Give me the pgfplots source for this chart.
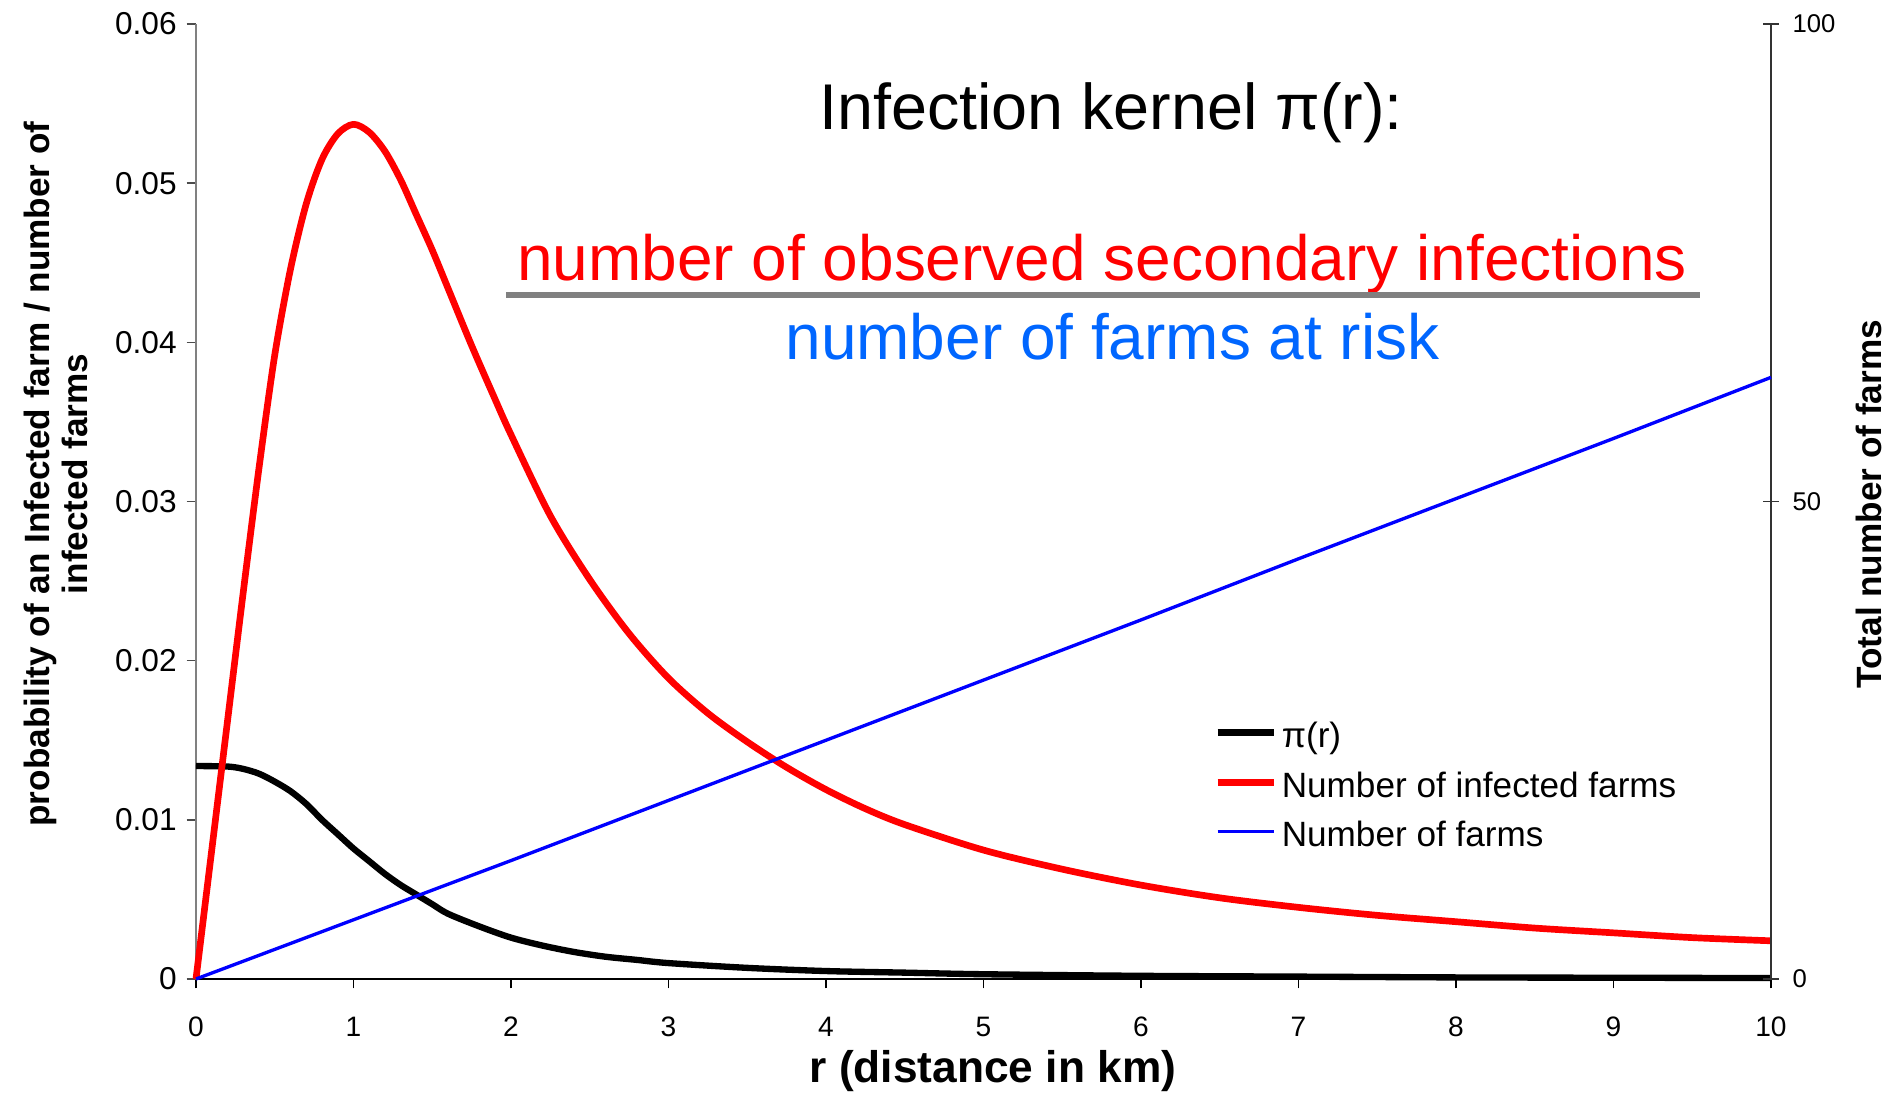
\documentclass[border=0pt]{standalone}
\usepackage{fontspec}
\setmainfont{Liberation Sans}
\usepackage{pgfplots}
\pgfplotsset{compat=1.18}
\definecolor{txtblue}{RGB}{0,102,255}
\definecolor{axgray}{RGB}{128,128,128}
\definecolor{pred}{RGB}{255,0,0}
\definecolor{pblue}{RGB}{0,0,255}

\pgfplotstableread{
r p
0 0.01338
0.2 0.01335
0.3 0.0132
0.4 0.0129
0.5 0.0124
0.6 0.0118
0.7 0.0110
0.8 0.0100
0.9 0.0091
1.0 0.0082
1.1 0.0074
1.2 0.0066
1.3 0.0059
1.4 0.0053
1.5 0.0047
1.6 0.0041
1.8 0.0033
2.0 0.0026
2.2 0.0021
2.4 0.0017
2.6 0.0014
2.8 0.0012
3.0 0.0010
3.5 0.0007
4.0 0.0005
4.5 0.0004
5.0 0.0003
6.0 0.0002
7.0 0.00015
8.0 0.0001
9.0 0.00008
10 0.00006
}\kernel

\pgfplotstableread{
r n
0 0
0.1 0.0081
0.2 0.0162
0.3 0.0243
0.4 0.0321
0.5 0.0392
0.6 0.0446
0.7 0.0487
0.8 0.0515
0.9 0.0531
1.0 0.0537
1.1 0.0532
1.2 0.0520
1.3 0.0502
1.4 0.0480
1.5 0.0458
1.6 0.0434
1.75 0.0398
1.9 0.0364
2.0 0.0342
2.25 0.0291
2.5 0.0251
2.75 0.0217
3.0 0.0189
3.25 0.0167
3.5 0.0149
3.75 0.0133
4.0 0.0119
4.25 0.0107
4.5 0.0097
5.0 0.0081
5.5 0.0069
6.0 0.0059
6.5 0.0051
7.0 0.0045
7.5 0.0040
8.0 0.0036
8.5 0.0032
9.0 0.0029
9.5 0.0026
10.0 0.0024
}\infected

\pgfplotstableread{
r f
0 0
1 6.2
2 12.4
3 18.7
4 25.0
5 31.3
6 37.6
7 44.0
8 50.3
9 56.6
10 63.0
}\farms

\begin{document}
\begin{tikzpicture}
\begin{axis}[
  at={(0,0)}, anchor=south west,
  scale only axis, width=157.5mm, height=95.5mm,
  xmin=0, xmax=10, ymin=0, ymax=0.06,
  axis x line*=bottom, axis y line*=left,
  x axis line style={black, line width=0.4pt, -},
  y axis line style={axgray, line width=0.6pt, -},
  xtick={0,1,2,3,4,5,6,7,8,9,10},
  xticklabels={0,1,2,3,4,5,6,7,8,9,10},
  ytick={0,0.01,0.02,0.03,0.04,0.05,0.06},
  yticklabels={0,0.01,0.02,0.03,0.04,0.05,0.06},
  tick align=outside,
  major tick length=2.7pt,
  xtick style={black, line width=0.4pt},
  ytick style={black!70, line width=0.4pt},
  xticklabel style={font=\fontsize{8}{9.6}\selectfont, inner sep=0pt, anchor=north, yshift=-8pt},
  yticklabel style={font=\fontsize{9}{10}\selectfont, inner sep=0pt, anchor=east, xshift=-2.6pt},
  xlabel={r (distance in km)},
  xlabel style={at={(axis description cs:0.506,0)}, anchor=base, yshift=-29.4pt, font=\fontsize{12.6}{14}\selectfont\bfseries, inner sep=0pt},
  ylabel={probability of an Infected farm / number of\\infected farms},
  ylabel style={at={(axis description cs:-0.0889,0.5288)}, anchor=center, align=center, font=\fontsize{10}{10.8}\selectfont\bfseries, inner sep=0pt},
  clip=false,
]
\addplot[black, line width=1.8pt, line join=round, smooth, tension=0.5] table[x=r, y=p] {\kernel};
\addplot[pred, line width=1.9pt, line join=round, smooth, tension=0.5] table[x=r, y=n] {\infected};
\node[anchor=base, font=\fontsize{18.4}{22}\selectfont, inner sep=0pt] at (axis cs:5.81,0.0534) {Infection kernel π(r):};
\node[anchor=base, font=\fontsize{18.2}{22}\selectfont, text=pred, inner sep=0pt] at (axis cs:5.753,0.0439) {number of observed secondary infections};
\draw[axgray, line width=1.7pt] (axis cs:1.968,0.04295) -- (axis cs:9.549,0.04295);
\node[anchor=base, font=\fontsize{18.2}{22}\selectfont, text=txtblue, inner sep=0pt] at (axis cs:5.819,0.03895) {number of farms at risk};
\end{axis}
\begin{axis}[
  at={(0,0)}, anchor=south west,
  scale only axis, width=157.5mm, height=95.5mm,
  xmin=0, xmax=10, ymin=0, ymax=100,
  axis x line=none, axis y line*=right,
  y axis line style={black!80, line width=0.4pt, -},
  ytick={0,50,100},
  yticklabels={0,50,100},
  tick align=center,
  major tick length=4.5pt,
  ytick style={black!80, line width=0.4pt},
  yticklabel style={font=\fontsize{7.3}{9}\selectfont, inner sep=0pt, anchor=west, xshift=3.7pt},
  ylabel={Total number of farms},
  ylabel style={at={(axis description cs:1.0622,0.497)}, anchor=center, font=\fontsize{10}{12}\selectfont\bfseries, inner sep=0pt},
  legend style={at={(rel axis cs:0.6464,0.2753)}, anchor=north west, draw=none, fill=none,
    font=\fontsize{10}{12}\selectfont, inner sep=0pt, outer sep=0pt, row sep=4.7pt, column sep=0.4mm,
    nodes={inner sep=0pt, text height=9pt, text depth=0.4pt}},
  legend cell align=left,
  legend image code/.code={\draw[#1] (0mm,0mm) -- (5.67mm,0mm);},
  clip=false,
]
\addlegendimage{black, line width=2pt}
\addlegendentry{π(r)}
\addlegendimage{pred, line width=2pt}
\addlegendentry{Number of infected farms}
\addplot[pblue, line width=0.95pt] table[x=r, y=f] {\farms};
\addlegendentry{Number of farms}
\end{axis}
\pgfresetboundingbox
\path[use as bounding box] (-19.6mm,-11.4mm) rectangle (170.2mm,97.9mm);
\end{tikzpicture}
\end{document}
